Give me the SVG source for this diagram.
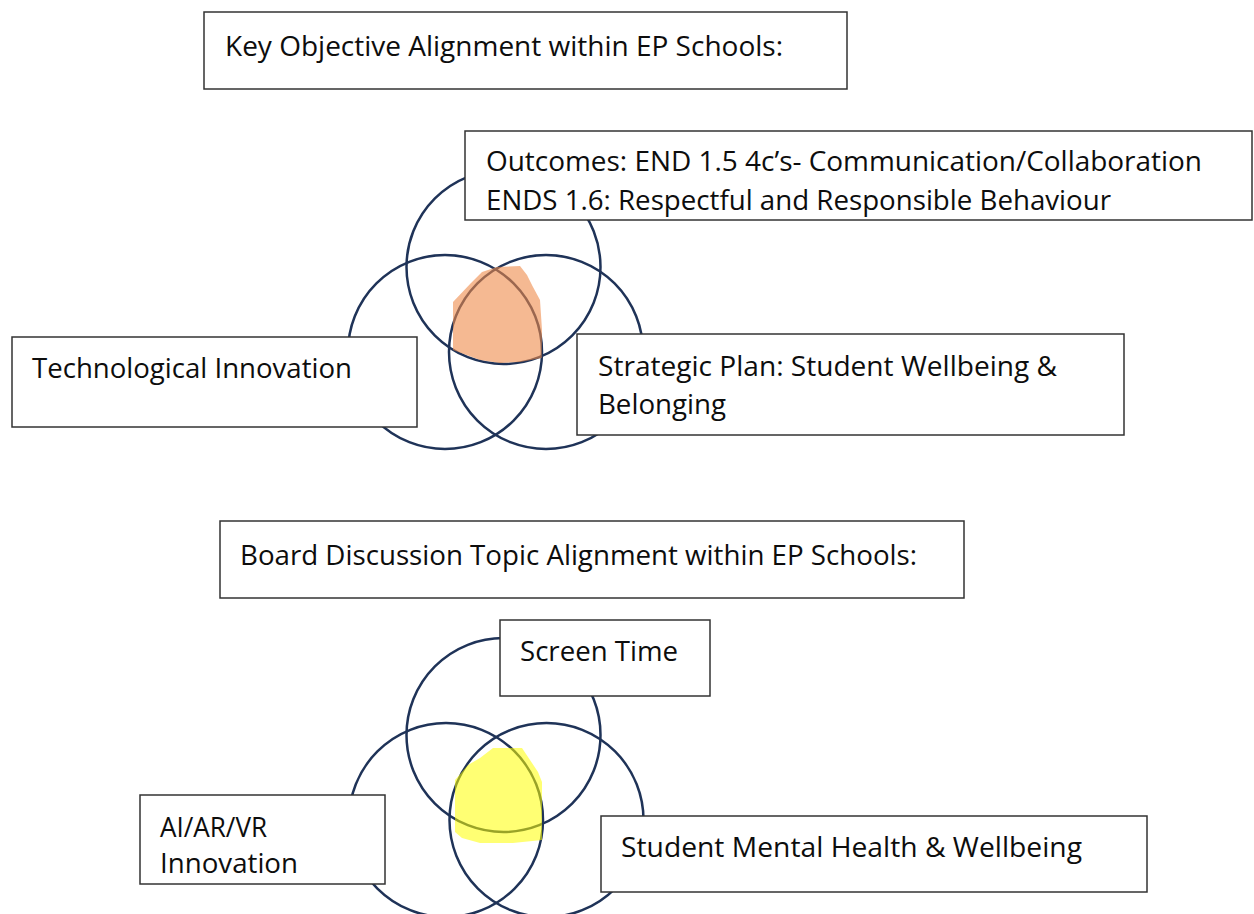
<svg xmlns="http://www.w3.org/2000/svg" width="1254" height="914" viewBox="0 0 1254 914">
  <style>
    .bg { fill: #ffffff; }
    .venn { fill: none; stroke: #1f3358; stroke-width: 2.5; }
    .box { fill: #ffffff; stroke: #333333; stroke-width: 1.5; }
    .t { font-family: "Open Sans", "Liberation Sans", sans-serif; font-size: 28px; fill: #0d0d0d; }
    .hl-orange { fill: #ee8a4a; fill-opacity: 0.6; }
    .hl-yellow { fill: #ffff00; fill-opacity: 0.55; }
  </style>
  <defs>
    <clipPath id="clipOutcomes">
      <rect x="465" y="131" width="787" height="89"/>
    </clipPath>
  </defs>
  <rect class="bg" x="0" y="0" width="1254" height="914"/>

  <g id="connectors">
    <g id="venn-top">
      <circle class="venn" cx="503.5" cy="267" r="97"/>
      <circle class="venn" cx="445" cy="352" r="97"/>
      <circle class="venn" cx="546" cy="352" r="97"/>
    </g>
    <g id="venn-bottom">
      <circle class="venn" cx="503.5" cy="735" r="97"/>
      <circle class="venn" cx="446" cy="820" r="97"/>
      <circle class="venn" cx="546.5" cy="820" r="97"/>
    </g>
  </g>

  <g id="highlight-top">
    <polygon class="hl-orange" points="453,302 471,283 482,272 497,267 520,266 527,275 533,287 540,300 542,330 541.7,358 520,362 500,363 480,360 453,350"/>
  </g>
  <g id="highlight-bottom">
    <polygon class="hl-yellow" points="455,780 468,765 480,758 493,748 522,748 532,763 538,772 542,782 542,840 513,843 480,843 462,838 455,832"/>
  </g>

  <g id="title-key">
    <rect class="box" x="204" y="12" width="643" height="77"/>
    <text class="t" x="225" y="56" textLength="558" lengthAdjust="spacingAndGlyphs">Key Objective Alignment within EP Schools:</text>
  </g>

  <g id="node-outcomes">
    <rect class="box" x="465" y="131" width="787" height="89"/>
    <g clip-path="url(#clipOutcomes)">
      <text class="t" x="486" y="171" textLength="716" lengthAdjust="spacingAndGlyphs">Outcomes: END 1.5 4c’s- Communication/Collaboration</text>
      <text class="t" x="486" y="210" textLength="625" lengthAdjust="spacingAndGlyphs">ENDS 1.6: Respectful and Responsible Behaviour</text>
    </g>
  </g>

  <g id="node-tech">
    <rect class="box" x="12" y="337" width="405" height="90"/>
    <text class="t" x="32" y="378" textLength="320" lengthAdjust="spacingAndGlyphs">Technological Innovation</text>
  </g>

  <g id="node-strategic">
    <rect class="box" x="577" y="334" width="547" height="101"/>
    <text class="t" x="598" y="376" textLength="459" lengthAdjust="spacingAndGlyphs">Strategic Plan: Student Wellbeing &amp;</text>
    <text class="t" x="598" y="414" textLength="128" lengthAdjust="spacingAndGlyphs">Belonging</text>
  </g>

  <g id="title-board">
    <rect class="box" x="220" y="521" width="744" height="77"/>
    <text class="t" x="240" y="565" textLength="677" lengthAdjust="spacingAndGlyphs">Board Discussion Topic Alignment within EP Schools:</text>
  </g>

  <g id="node-screen">
    <rect class="box" x="500" y="620" width="210" height="76"/>
    <text class="t" x="520" y="661" textLength="158" lengthAdjust="spacingAndGlyphs">Screen Time</text>
  </g>

  <g id="node-ai">
    <rect class="box" x="140" y="795" width="245" height="89"/>
    <text class="t" x="160" y="837" textLength="107" lengthAdjust="spacingAndGlyphs">AI/AR/VR</text>
    <text class="t" x="160" y="873" textLength="138" lengthAdjust="spacingAndGlyphs">Innovation</text>
  </g>

  <g id="node-mental">
    <rect class="box" x="601" y="816" width="546" height="76"/>
    <text class="t" x="621" y="857" textLength="461" lengthAdjust="spacingAndGlyphs">Student Mental Health &amp; Wellbeing</text>
  </g>
</svg>
